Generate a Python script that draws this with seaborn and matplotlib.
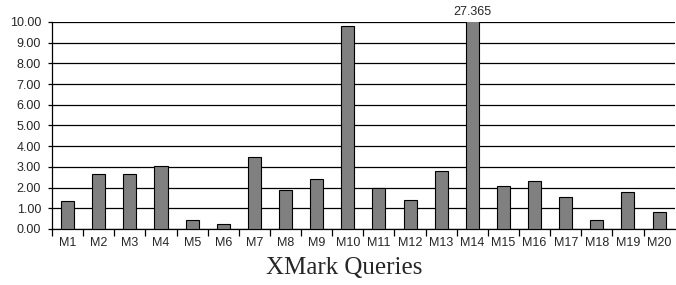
import numpy as np
import pandas as pd
import matplotlib
matplotlib.use('Agg')
import matplotlib.pyplot as plt
import seaborn as sns

# Query times (M14 is off-scale, labelled)
queries = ['M%d' % i for i in range(1, 21)]
times = [1.35, 2.64, 2.64, 3.06, 0.45, 0.24, 3.49, 1.88, 2.42, 9.80,
         2.00, 1.39, 2.80, 27.365, 2.06, 2.32, 1.56, 0.42, 1.77, 0.81]
y_ticks = [0, 1, 2, 3, 4, 5, 6, 7, 8, 9, 10]

df = pd.DataFrame({'query': queries, 'time': times})

sns.set_style('white')
plt.rcParams['font.family'] = ['Liberation Sans', 'DejaVu Sans']

fig = plt.figure(figsize=(6.76, 2.85), dpi=100)
ax = fig.add_axes([0.077, 0.1965, 0.921, 0.7265])

sns.barplot(data=df, x='query', y='time', color='#808080', saturation=1,
            width=0.42, edgecolor='black', linewidth=0.8, ax=ax, zorder=3)

ax.set_ylim(0, 10)
ax.set_xlim(-0.5, len(queries) - 0.5)
ax.set_yticks(y_ticks)
ax.set_yticklabels(['%.2f' % v for v in y_ticks], fontsize=9)
ax.yaxis.grid(True, color='black', linewidth=0.9, zorder=0)
ax.set_axisbelow(True)

for s in ['top', 'right']:
    ax.spines[s].set_visible(False)
ax.spines['left'].set_color('black')
ax.spines['left'].set_linewidth(0.9)
ax.spines['bottom'].set_color('black')
ax.spines['bottom'].set_linewidth(0.9)

# category separators as ticks below the axis
ax.set_xticks(np.arange(len(queries)) - 0.5, minor=True)
ax.tick_params(axis='x', which='minor', length=5, width=0.9, direction='out', color='black', bottom=True)
ax.tick_params(axis='x', which='major', length=0, labelsize=9, pad=6)
ax.tick_params(axis='y', which='major', length=3, width=0.9, direction='out', color='black', left=True, pad=5)

# label for the clipped bar
i14 = queries.index('M14')
ax.text(i14, 10.2, '%.3f' % times[i14], ha='center', va='bottom', fontsize=9)

ax.set_ylabel('')
ax.set_xlabel('XMark Queries', family=['Liberation Serif', 'DejaVu Serif'], fontsize=18)
ax.xaxis.set_label_coords(0.469, -0.135)

fig.savefig('out.png', dpi=100)
